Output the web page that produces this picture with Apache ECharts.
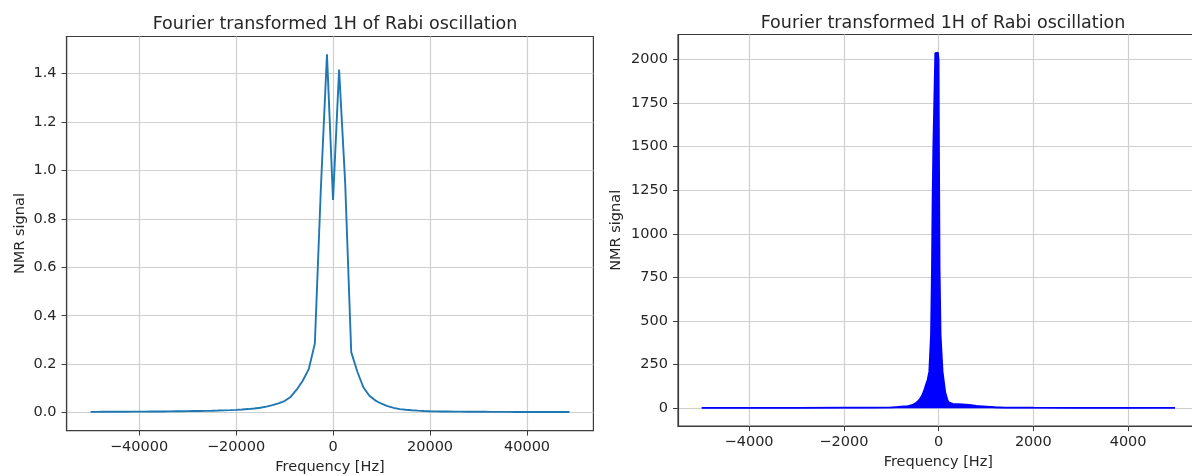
<!DOCTYPE html>
<html>
<head>
<meta charset="utf-8">
<script src="https://cdn.jsdelivr.net/npm/echarts@6/dist/echarts.min.js"></script>
<style>
html,body{margin:0;padding:0;background:#fff;}
#chart{width:1192px;height:476px;}
</style>
</head>
<body>
<div id="chart"></div>
<script>
// ---------- Data ----------
const chartTitle = 'Fourier transformed 1H of Rabi oscillation';
const xAxisLabel = 'Frequency [Hz]';
const yAxisLabel = 'NMR signal';

// Left panel: FFT frequencies (Hz) and signal
const leftFreq = [
  -50000,-48750,-47500,-46250,-45000,-43750,-42500,-41250,-40000,-38750,
  -37500,-36250,-35000,-33750,-32500,-31250,-30000,-28750,-27500,-26250,
  -25000,-23750,-22500,-21250,-20000,-18750,-17500,-16250,-15000,-13750,
  -12500,-11250,-10000,-8750,-7500,-6250,-5000,-3750,-2500,-1250,
  0,1250,2500,3750,5000,6250,7500,8750,10000,11250,
  12500,13750,15000,16250,17500,18750,20000,21250,22500,23750,
  25000,26250,27500,28750,30000,31250,32500,33750,35000,36250,
  37500,38750,40000,41250,42500,43750,45000,46250,47500,48750
];
const leftSignal = [
  0.0035,0.0036,0.0037,0.0038,0.0039,0.0040,0.0041,0.0043,0.0044,0.0046,
  0.0048,0.0050,0.0052,0.0055,0.0058,0.0061,0.0064,0.0068,0.0072,0.0077,
  0.0083,0.0090,0.0098,0.0107,0.0118,0.0132,0.0150,0.0175,0.0205,0.0250,
  0.0310,0.0385,0.0480,0.0650,0.0950,0.1320,0.1800,0.2850,0.9300,1.4780,
  0.8780,1.4150,0.9500,0.2500,0.1700,0.1050,0.0700,0.0500,0.0370,0.0270,
  0.0200,0.0150,0.0120,0.0100,0.0085,0.0072,0.0062,0.0056,0.0052,0.0049,
  0.0046,0.0044,0.0042,0.0040,0.0038,0.0037,0.0036,0.0035,0.0034,0.0033,
  0.0032,0.0031,0.0031,0.0030,0.0030,0.0029,0.0029,0.0028,0.0028,0.0028
];
const leftXTicks = [-40000,-20000,0,20000,40000];
const leftYTicks = [0,0.2,0.4,0.6,0.8,1.0,1.2,1.4];

// Right panel: envelope of the dense spectrum (Hz, signal)
const rightFreq = [
  -5000,-4000,-3000,-2000,-1500,-1000,-900,-800,-650,-549,
  -480,-407,-350,-302,-260,-232,-196,-160,-140,-127,
  -112,-98,-70,-42,-14,0,8,21,42,84,
  141,190,226,300,400,500,650,800,1000,1200,
  1400,2000,3000,4000,4990
];
const rightSignal = [
  3,3,3,3.5,4,5,7,9,12,19,
  30,48,72,105,140,162,210,420,800,1180,
  1482,1482,2035,2044,2038,1996,1480,800,420,210,
  90,45,32,25,24,23,19,14,10,6,
  4,3.5,3,3,3
];
const rightXTicks = [-4000,-2000,0,2000,4000];
const rightYTicks = [0,250,500,750,1000,1250,1500,1750,2000];

// ---------- Styles ----------
const FONT = 'DejaVu Sans';
const TXT = '#262626';
const SPINE = '#3c3c3c';
const GRIDC = '#cfcfcf';

function fmtNum(v, dec) {
  const s = Math.abs(v).toFixed(dec);
  return (v < 0 ? '\u2212' : '') + s;
}

function makeX(idx, min, max, ticks) {
  return {
    type: 'value', gridIndex: idx, min: min, max: max,
    name: xAxisLabel, nameLocation: 'middle', nameGap: 27,
    nameTextStyle: {fontFamily: FONT, fontSize: 14.5, color: TXT},
    axisLine: {show: true, onZero: false, lineStyle: {color: SPINE, width: 1.2}},
    axisTick: {show: true, inside: false, length: 5, customValues: ticks, lineStyle: {color: SPINE, width: 1}},
    axisLabel: {show: true, margin: 9, customValues: ticks, fontFamily: FONT, fontSize: 14.5, color: TXT,
      formatter: v => fmtNum(v, 0)},
    splitLine: {show: true, lineStyle: {color: GRIDC, width: 1.2}}
  };
}
function makeY(idx, min, max, ticks, dec, gap) {
  return {
    type: 'value', gridIndex: idx, min: min, max: max,
    name: yAxisLabel, nameLocation: 'middle', nameGap: gap, nameRotate: 90,
    nameTextStyle: {fontFamily: FONT, fontSize: 14.5, color: TXT},
    axisLine: {show: true, onZero: false, lineStyle: {color: SPINE, width: 1.2}},
    axisTick: {show: true, inside: false, length: 5, customValues: ticks, lineStyle: {color: SPINE, width: 1}},
    axisLabel: {show: true, margin: 10, customValues: ticks, fontFamily: FONT, fontSize: 14.5, color: TXT,
      formatter: v => fmtNum(v, dec)},
    splitLine: {show: true, lineStyle: {color: GRIDC, width: 1.2}}
  };
}

const chart = echarts.init(document.getElementById('chart'), null, {renderer: 'canvas'});
const option = {
  backgroundColor: '#ffffff',
  animation: false,
  title: [
    {text: chartTitle, left: 330, top: 10, textAlign: 'center',
     textStyle: {fontFamily: FONT, fontSize: 17.5, fontWeight: 'normal', color: TXT}},
    {text: chartTitle, left: 938, top: 9, textAlign: 'center',
     textStyle: {fontFamily: FONT, fontSize: 17.5, fontWeight: 'normal', color: TXT}}
  ],
  grid: [
    {left: 66.6, top: 36.5, width: 526.8, height: 394.1, show: true, borderColor: SPINE, borderWidth: 1.2,
     backgroundColor: 'transparent', containLabel: false, outerBoundsMode: 'none'},
    {left: 678, top: 34.5, width: 520.7, height: 391.6, show: true, borderColor: SPINE, borderWidth: 1.2,
     backgroundColor: 'transparent', containLabel: false, outerBoundsMode: 'none'}
  ],
  xAxis: [
    makeX(0, -54937.5, 53687.5, leftXTicks),
    makeX(1, -5500, 5490, rightXTicks)
  ],
  yAxis: [
    makeY(0, -0.0738, 1.5518, leftYTicks, 1, 39),
    makeY(1, -102, 2142, rightYTicks, 0, 54)
  ],
  series: [
    {
      type: 'line', xAxisIndex: 0, yAxisIndex: 0, showSymbol: false, symbol: 'none',
      data: leftFreq.map((f, i) => [f, leftSignal[i]]),
      lineStyle: {color: '#1f77b4', width: 1.9}, itemStyle: {color: '#1f77b4'}, z: 5
    },
    {
      type: 'line', xAxisIndex: 1, yAxisIndex: 1, showSymbol: false, symbol: 'none',
      data: rightFreq.map((f, i) => [f, rightSignal[i]]),
      lineStyle: {color: '#0000ff', width: 1.8}, itemStyle: {color: '#0000ff'},
      areaStyle: {color: '#0000ff', opacity: 1, origin: 0}, z: 5
    }
  ]
};
chart.setOption(option);
</script>
</body>
</html>
